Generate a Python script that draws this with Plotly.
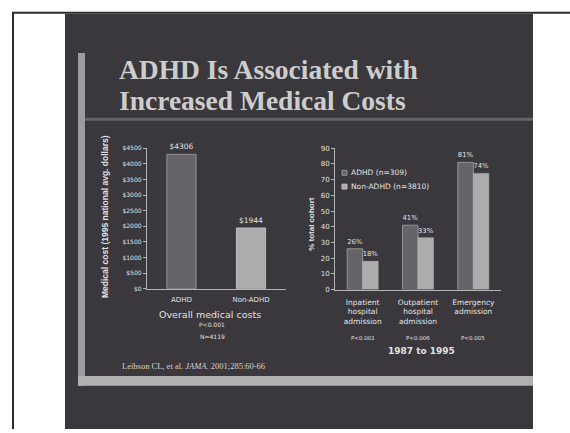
import plotly.graph_objects as go

W, H = 570, 433

# ---- data -------------------------------------------------------------
cost_groups = ["ADHD", "Non-ADHD"]
cost_values = [4306, 1944]
cost_ticks = list(range(0, 4501, 500))
cost_tick_labels = [f"${v}" for v in cost_ticks]

admit_categories = [
    "Inpatient<br>hospital<br>admission",
    "Outpatient<br>hospital<br>admission",
    "Emergency<br>admission",
]
adhd_pct = [26, 41, 81]
non_adhd_pct = [18, 33, 74]
admit_pvalues = ["P<0.001", "P<0.006", "P<0.005"]
pct_ticks = list(range(0, 91, 10))

series_names = ["ADHD (n=309)", "Non-ADHD (n=3810)"]

# ---- styling ----------------------------------------------------------
SLIDE = "#3a383c"
TEXT = "#e2e2e2"
AXIS = "#b4b4b4"
DARK_BAR = "#666468"
DARK_EDGE = "#939393"
LIGHT_BAR = "#acacac"
LIGHT_EDGE = "#bcbcbc"
SANS = "DejaVu Sans"
SERIF = "Liberation Serif"


def px(x):
    return x / W


def py(y):
    return 1 - y / H


fig = go.Figure()

# overall cost bars
fig.add_trace(go.Bar(
    x=cost_groups, y=cost_values, width=0.42,
    marker=dict(color=[DARK_BAR, LIGHT_BAR],
                line=dict(color=[DARK_EDGE, LIGHT_EDGE], width=1)),
    text=[f"${v}" for v in cost_values], textposition="outside",
    textfont=dict(family=SANS, size=7.5, color=TEXT),
    cliponaxis=False, showlegend=False, xaxis="x", yaxis="y",
))

# admission percentages
fig.add_trace(go.Bar(
    x=admit_categories, y=adhd_pct, name=series_names[0],
    marker=dict(color=DARK_BAR, line=dict(color=DARK_EDGE, width=1)),
    text=[f"{v}%" for v in adhd_pct], textposition="outside",
    textfont=dict(family=SANS, size=7, color=TEXT),
    cliponaxis=False, showlegend=False, xaxis="x2", yaxis="y2",
))
fig.add_trace(go.Bar(
    x=admit_categories, y=non_adhd_pct, name=series_names[1],
    marker=dict(color=LIGHT_BAR, line=dict(color=LIGHT_EDGE, width=0.5)),
    text=[f"{v}%" for v in non_adhd_pct], textposition="outside",
    textfont=dict(family=SANS, size=7, color=TEXT),
    cliponaxis=False, showlegend=False, xaxis="x2", yaxis="y2",
))

# ---- slide background shapes -----------------------------------------
shapes = [
    dict(type="rect", xref="paper", yref="paper", x0=px(65), x1=px(533),
         y0=0, y1=py(10), fillcolor=SLIDE, line=dict(width=0), layer="below"),
    # left accent bar
    dict(type="rect", xref="paper", yref="paper", x0=px(78), x1=px(85),
         y0=py(389), y1=py(50), fillcolor="#9c9c9c", line=dict(width=0), layer="below"),
    # bottom accent bar
    dict(type="rect", xref="paper", yref="paper", x0=px(78), x1=px(533),
         y0=py(389), y1=py(379), fillcolor="#b0b0b0", line=dict(width=0), layer="below"),
    # rule under the title
    dict(type="rect", xref="paper", yref="paper", x0=px(85), x1=px(533),
         y0=py(119), y1=py(116), fillcolor="#646266", line=dict(width=0), layer="below"),
    # page frame
    dict(type="line", xref="paper", yref="paper", x0=px(12), x1=1,
         y0=py(9), y1=py(9), line=dict(color="#2c2c2c", width=2)),
    dict(type="line", xref="paper", yref="paper", x0=px(13), x1=px(13),
         y0=py(9), y1=0, line=dict(color="#2c2c2c", width=2)),
]

# legend squares
legend_rows = [(172, DARK_BAR, DARK_EDGE), (186, LIGHT_BAR, LIGHT_EDGE)]
for yy, fill, edge in legend_rows:
    shapes.append(dict(type="rect", xref="paper", yref="paper",
                       x0=px(342), x1=px(347), y0=py(yy + 2.5), y1=py(yy - 2.5),
                       fillcolor=fill, line=dict(color=edge, width=1)))

annotations = [
    dict(text="<b>ADHD Is Associated with</b>", x=px(117), y=py(67),
         font=dict(family=SERIF, size=27.5, color="#cdcdcd")),
    dict(text="<b>Increased Medical Costs</b>", x=px(117), y=py(98),
         font=dict(family=SERIF, size=27.5, color="#cdcdcd")),
    dict(text="Leibson CL, et al. <i>JAMA</i>. 2001;285:60-66", x=px(120), y=py(369),
         font=dict(family=SERIF, size=8.5, color="#d4d4d4")),
]
for a in annotations:
    a.update(xref="paper", yref="paper", xanchor="left", yanchor="middle", showarrow=False)

centered = [
    dict(text="<b>Medical cost (1995 national avg. dollars)</b>", x=px(105), y=py(217),
         textangle=-90, font=dict(family="Liberation Sans", size=8.5, color=TEXT)),
    dict(text="<b>% total cohort</b>", x=px(312), y=py(224),
         textangle=-90, font=dict(family="Liberation Sans", size=8, color=TEXT)),
    dict(text="Overall medical costs", x=px(210), y=py(316),
         font=dict(family=SANS, size=9.5, color=TEXT)),
    dict(text="P<0.001", x=px(212), y=py(327),
         font=dict(family=SANS, size=6, color=TEXT)),
    dict(text="N=4119", x=px(212), y=py(339),
         font=dict(family=SANS, size=6, color=TEXT)),
    dict(text="<b>1987 to 1995</b>", x=px(421), y=py(354),
         font=dict(family=SANS, size=9, color=TEXT)),
]
for a in centered:
    a.update(xref="paper", yref="paper", xanchor="center", yanchor="middle", showarrow=False)
annotations += centered

for yy, name in zip((172, 186), series_names):
    annotations.append(dict(text=name, x=px(349), y=py(yy), xref="paper", yref="paper",
                            xanchor="left", yanchor="middle", showarrow=False,
                            font=dict(family=SANS, size=7.5, color=TEXT)))

for cat, p in zip(admit_categories, admit_pvalues):
    annotations.append(dict(text=p, x=cat, xref="x2", y=py(340), yref="paper",
                            xanchor="center", yanchor="middle", showarrow=False,
                            font=dict(family=SANS, size=5.5, color=TEXT)))

axis_common = dict(showline=True, linecolor=AXIS, linewidth=1, showgrid=False,
                   zeroline=False, fixedrange=True)

fig.update_layout(
    width=W, height=H, margin=dict(l=0, r=0, t=0, b=0),
    paper_bgcolor="white", plot_bgcolor="rgba(0,0,0,0)",
    barmode="group", bargap=0.44, bargroupgap=0,
    shapes=shapes, annotations=annotations,
    xaxis=dict(domain=[px(146.75), px(285.75)], anchor="y", ticks="",
               ticklabelstandoff=4,
               tickfont=dict(family=SANS, size=7, color=TEXT), **axis_common),
    yaxis=dict(domain=[py(290), py(147)], anchor="x", range=[0, 4500],
               tickmode="array", tickvals=cost_ticks, ticktext=cost_tick_labels,
               ticks="outside", ticklen=3, tickcolor=AXIS,
               tickfont=dict(family=SANS, size=6, color=TEXT), **axis_common),
    xaxis2=dict(domain=[px(335), px(501)], anchor="y2", ticks="",
                ticklabelstandoff=5,
                tickfont=dict(family=SANS, size=7.5, color=TEXT), **axis_common),
    yaxis2=dict(domain=[py(291), py(147)], anchor="x2", range=[0, 90],
                tickvals=pct_ticks, ticks="outside", ticklen=3, tickcolor=AXIS,
                tickfont=dict(family=SANS, size=7, color=TEXT), **axis_common),
)

fig.write_html("out.html")
